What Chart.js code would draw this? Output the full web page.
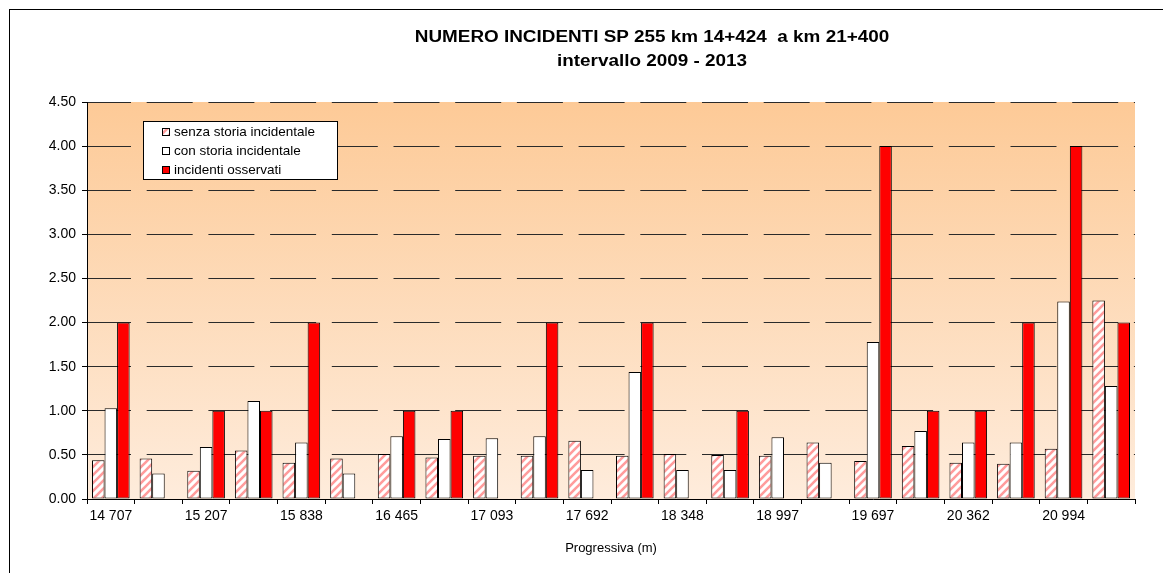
<!DOCTYPE html>
<html>
<head>
<meta charset="utf-8">
<script src="https://cdn.jsdelivr.net/npm/chart.js@4/dist/chart.umd.min.js"></script>
<style>
  html, body { margin: 0; padding: 0; background: #fff; }
  canvas { display: block; }
</style>
</head>
<body>
<canvas id="incidenti" width="1163" height="573"></canvas>
<script>
// progressive (m) - Excel only printed every other label
const categories = [
  '14 707', '', '15 207', '', '15 838', '', '16 465', '', '17 093', '', '17 692', '',
  '18 348', '', '18 997', '', '19 697', '', '20 362', '', '20 994', ''
];
const senzaStoria = [0.44, 0.46, 0.32, 0.55, 0.41, 0.46, 0.51, 0.47, 0.49, 0.49, 0.66,
  0.49, 0.51, 0.50, 0.49, 0.64, 0.43, 0.60, 0.41, 0.40, 0.57, 2.25];
const conStoria = [1.03, 0.29, 0.59, 1.11, 0.64, 0.29, 0.71, 0.68, 0.69, 0.71, 0.33,
  1.44, 0.33, 0.33, 0.70, 0.41, 1.78, 0.77, 0.64, 0.64, 2.24, 1.28];
const osservati = [2, 0, 1, 1, 2, 0, 1, 1, 0, 2, 0, 2, 0, 1, 0, 0, 4, 1, 1, 2, 4, 2];
const seriesNames = ['senza storia incidentale', 'con storia incidentale', 'incidenti osservati'];
const titleLines = ['NUMERO INCIDENTI SP 255 km 14+424  a km 21+400', 'intervallo 2009 - 2013'];

const FONT = "'Liberation Sans', Arial, sans-serif";

// pink diagonal hatch like the Excel pattern fill
function makeHatch() {
  const c = document.createElement('canvas');
  c.width = 8; c.height = 8;
  const g = c.getContext('2d');
  g.fillStyle = '#fff';
  g.fillRect(0, 0, 8, 8);
  g.strokeStyle = '#ff9c9c';
  g.lineWidth = 2.6;
  g.beginPath();
  g.moveTo(-2, 10); g.lineTo(10, -2);
  g.moveTo(-2, 2); g.lineTo(2, -2);
  g.moveTo(6, 10); g.lineTo(10, 6);
  g.stroke();
  return g.createPattern(c, 'repeat');
}

const ctx = document.getElementById('incidenti').getContext('2d');
const hatch = makeHatch();
const zeroNoBorder = c => (c.raw > 0 ? 1 : 0);

const backgroundPlugin = {
  id: 'background',
  beforeDraw(chart) {
    const { ctx, chartArea: a } = chart;
    ctx.save();
    ctx.fillStyle = '#fff';
    ctx.fillRect(0, 0, chart.width, chart.height);
    ctx.strokeStyle = '#000';
    ctx.lineWidth = 1;
    ctx.strokeRect(9.5, 9.5, chart.width + 20, chart.height + 20);
    const grad = ctx.createLinearGradient(0, a.top, 0, a.bottom);
    grad.addColorStop(0, '#fdca97');
    grad.addColorStop(1, '#feecdc');
    ctx.fillStyle = grad;
    ctx.fillRect(a.left, a.top, a.right - a.left, a.bottom - a.top);
    ctx.restore();
  }
};

const titlePlugin = {
  id: 'twoLineTitle',
  afterDraw(chart) {
    const ctx = chart.ctx;
    ctx.save();
    ctx.fillStyle = '#000';
    ctx.font = 'bold 16px ' + FONT;
    ctx.textAlign = 'center';
    ctx.textBaseline = 'alphabetic';
    const cx = 652;
    [[titleLines[0], 42], [titleLines[1], 66]].forEach(([t, y]) => {
      ctx.save();
      ctx.translate(cx, y);
      ctx.scale(1.18, 1);
      ctx.fillText(t, 0, 0);
      ctx.restore();
    });
    ctx.restore();
  }
};

const legendPlugin = {
  id: 'boxLegend',
  afterDatasetsDraw(chart) {
    const ctx = chart.ctx;
    const x = 143, y = 121, w = 194, h = 58;
    ctx.save();
    ctx.fillStyle = '#fff';
    ctx.fillRect(x, y, w, h);
    ctx.strokeStyle = '#000';
    ctx.lineWidth = 1;
    ctx.strokeRect(x + 0.5, y + 0.5, w, h);
    ctx.font = '13.5px ' + FONT;
    ctx.textBaseline = 'middle';
    chart.data.datasets.forEach((ds, i) => {
      const cy = y + 11 + i * 19;
      ctx.fillStyle = ds.backgroundColor;
      ctx.fillRect(162, cy - 4, 7, 7);
      ctx.strokeStyle = '#000';
      ctx.strokeRect(162.5, cy - 3.5, 7, 7);
      ctx.fillStyle = '#000';
      ctx.fillText(ds.label, 174, cy);
    });
    ctx.restore();
  }
};

new Chart(ctx, {
  type: 'bar',
  data: {
    labels: categories,
    datasets: [
      { label: seriesNames[0], data: senzaStoria, backgroundColor: hatch },
      { label: seriesNames[1], data: conStoria, backgroundColor: '#ffffff' },
      { label: seriesNames[2], data: osservati, backgroundColor: '#ff0000' }
    ]
  },
  options: {
    responsive: false,
    animation: false,
    layout: { padding: { top: 102, right: 28, left: 0, bottom: 0 } },
    datasets: {
      bar: {
        categoryPercentage: 0.79,
        barPercentage: 1.0,
        borderColor: '#000',
        borderWidth: zeroNoBorder,
        borderSkipped: false
      }
    },
    plugins: {
      legend: { display: false },
      title: { display: false },
      tooltip: { enabled: false }
    },
    scales: {
      x: {
        afterFit: s => { s.height = 74; },
        grid: {
          drawOnChartArea: false,
          drawTicks: true,
          tickLength: 5,
          tickColor: '#000',
          offset: true
        },
        border: { display: true, color: '#000', width: 1 },
        ticks: {
          autoSkip: false,
          maxRotation: 0,
          color: '#000',
          padding: 4,
          font: { family: FONT, size: 14 }
        },
        title: {
          display: true,
          text: 'Progressiva (m)',
          color: '#000',
          font: { family: FONT, size: 13 },
          padding: { top: 0, bottom: 17 }
        }
      },
      y: {
        min: 0,
        max: 4.5,
        afterFit: s => { s.width = 87; },
        grid: {
          color: '#2a2a2a',
          lineWidth: 1,
          drawTicks: true,
          tickLength: 5,
          tickColor: '#000',
          tickBorderDash: []
        },
        border: { display: true, color: '#000', width: 1, dash: [46, 15.7], dashOffset: 3 },
        ticks: {
          stepSize: 0.5,
          color: '#000',
          padding: 6,
          font: { family: FONT, size: 14 },
          callback: v => Number(v).toFixed(2)
        }
      }
    }
  },
  plugins: [backgroundPlugin, titlePlugin, legendPlugin]
});
</script>
</body>
</html>
